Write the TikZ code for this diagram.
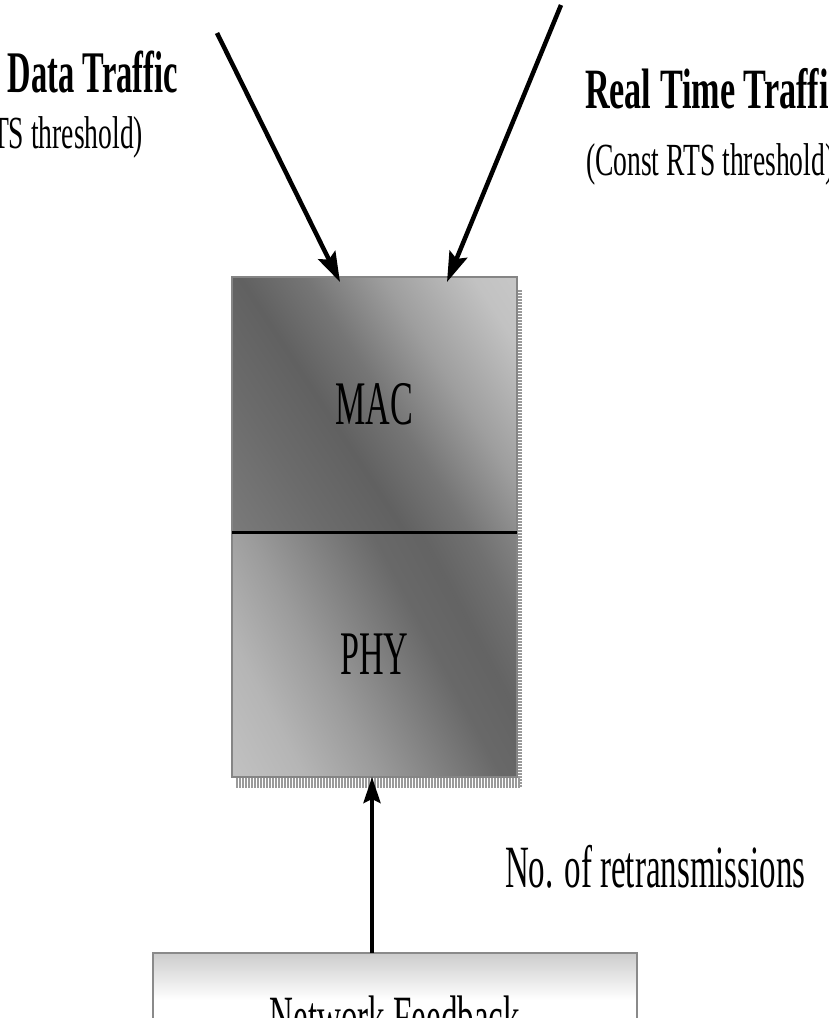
\documentclass[tikz,border=0pt]{standalone}
\usepackage{fontspec}
\setmainfont{Liberation Serif}
\newfontfamily\cond[FakeStretch=0.55]{Liberation Serif}
\newfontfamily\condwide[FakeStretch=0.60]{Liberation Serif}
\usetikzlibrary{arrows.meta,calc}
\definecolor{boxedge}{HTML}{858585}
\definecolor{shadowgray}{HTML}{9A9A9A}
\definecolor{nfedge}{HTML}{8A8A8A}
\pgfdeclarehorizontalshading{macshade}{100bp}{rgb(0bp)=(.50,.50,.50); rgb(15bp)=(.48,.48,.48); rgb(30bp)=(.42,.42,.42); rgb(42bp)=(.38,.38,.38); rgb(52bp)=(.46,.46,.46); rgb(64bp)=(.62,.62,.62); rgb(78bp)=(.76,.76,.76); rgb(88bp)=(.79,.79,.79); rgb(100bp)=(.79,.79,.79)}
\pgfdeclarehorizontalshading{physhade}{100bp}{rgb(0bp)=(.77,.77,.77); rgb(16bp)=(.76,.76,.76); rgb(28bp)=(.71,.71,.71); rgb(40bp)=(.61,.61,.61); rgb(50bp)=(.51,.51,.51); rgb(60bp)=(.41,.41,.41); rgb(68bp)=(.39,.39,.39); rgb(76bp)=(.44,.44,.44); rgb(86bp)=(.54,.54,.54); rgb(100bp)=(.56,.56,.56)}
\pgfdeclareverticalshading{nfshade}{100bp}{rgb(0bp)=(1,1,1); rgb(59bp)=(1,1,1); rgb(75bp)=(.80,.80,.80); rgb(100bp)=(.80,.80,.80)}
\tikzset{
  layerbox/.style={draw=boxedge, line width=2pt, minimum width=285pt, inner sep=0pt, outer sep=0pt,
    font=\cond\fontsize{62}{62}\selectfont},
  bigbold/.style={inner sep=0pt, outer sep=0pt, anchor=base west, font=\cond\bfseries\fontsize{59}{59}\selectfont},
  bigboldwide/.style={inner sep=0pt, outer sep=0pt, anchor=base west, font=\condwide\bfseries\fontsize{57}{57}\selectfont},
  subtext/.style={inner sep=0pt, outer sep=0pt, anchor=base west, font=\condwide\fontsize{46}{46}\selectfont},
  plaintext/.style={inner sep=0pt, outer sep=0pt, font=\cond\fontsize{60}{60}\selectfont},
  feedbox/.style={draw=nfedge, line width=2pt, shading=nfshade, inner sep=0pt, outer sep=0pt,
    minimum width=484pt, minimum height=147pt},
  inarrow/.style={line width=4.5pt, -{Stealth[length=30pt,width=19pt,inset=5pt]}},
  uparrow/.style={line width=4pt, -{Stealth[length=26pt,width=17pt,inset=4pt]}},
  divider/.style={line width=3pt, black},
  hatch/.style={shadowgray, dash pattern=on 1.5pt off 1.5pt}
}
\begin{document}
\begin{tikzpicture}[x=1pt,y=-1pt]
\useasboundingbox (0,0) rectangle (829,1018);
\clip (0,0) rectangle (829,1018);
\fill[white] (0,0) rectangle (829,1018);

% labels
\node[bigbold] (dt) at (8,92) {Data Traffic};
\node[subtext] (dts) at (-8,148) {TS threshold)};
\node[bigboldwide] (rt) at (585,108) {Real Time Traffic};
\node[subtext] (rts) at (586,175) {(Const RTS threshold)};
\node[plaintext, anchor=base west] (nr) at (505,887) {No. of retransmissions};

% shadow stripes
\coordinate (shr1) at (519.5,290);
\coordinate (shr2) at (519.5,788);
\coordinate (shb1) at (236,783);
\coordinate (shb2) at (521,783);
\draw[hatch, line width=4pt] (shr1) -- (shr2);
\draw[hatch, line width=10pt] (shb1) -- (shb2);

% MAC / PHY stack
\node[layerbox, minimum height=255pt, shading=macshade, shading angle=33] (mac) at (374.5,404.5) {MAC};
\node[layerbox, minimum height=245pt, shading=physhade, shading angle=28] (phy) at (374.5,654.5) {PHY};
\draw[divider] (mac.south west) -- (mac.south east);

% network feedback
\node[feedbox] (nf) at (395,1026.5) {};
\node[plaintext, anchor=base] (nft) at (395,1037) {Network Feedback};

% arrows
\coordinate (s1) at (217,33);
\coordinate (s2) at (561,5);
\coordinate (t1) at ($(mac.north west)+(108,5)$);
\coordinate (t2) at ($(mac.north west)+(215,5)$);
\draw[inarrow] (s1) -- (t1);
\draw[inarrow] (s2) -- (t2);
\coordinate (fb) at ($(phy.south)+(-2.5,0)$);
\draw[uparrow] (fb |- nf.north) -- (fb);
\end{tikzpicture}
\end{document}
